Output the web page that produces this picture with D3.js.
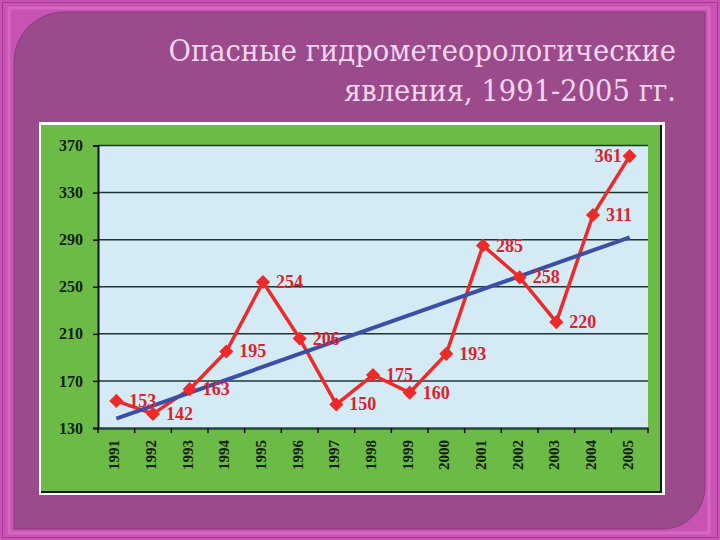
<!DOCTYPE html>
<html><head><meta charset="utf-8">
<script src="https://cdn.jsdelivr.net/npm/d3@7"></script>
<style>html,body{margin:0;padding:0;background:#c552b2;}svg{display:block;}</style>
</head><body>
<svg id="chart" width="720" height="540"></svg>
<script>
const years = ["1991","1992","1993","1994","1995","1996","1997","1998","1999","2000","2001","2002","2003","2004","2005"];
const values = [153,142,163,195,254,206,150,175,160,193,285,258,220,311,361];
const trendYears = ["1991","2005"];
const trendValues = [138,292];
const yTicks = [130,170,210,250,290,330,370];
const titleLines = ["Опасные гидрометеорологические","явления, 1991-2005 гг."];

const svg = d3.select("#chart");

// outer pink frame
svg.append("rect").attr("x",0).attr("y",0).attr("width",720).attr("height",540).attr("fill","#c853b3");
svg.append("rect").attr("x",2.5).attr("y",2.5).attr("width",715).attr("height",535).attr("fill","none").attr("stroke","#a8389a").attr("stroke-width",1);
svg.append("rect").attr("x",9).attr("y",8).attr("width",700).attr("height",525).attr("fill","none").attr("stroke","#d468c2").attr("stroke-width",3);

// inner purple panel with rounded top-left & bottom-right
const L=14,T=12,R=705,B=529,r1=50,r2=42;
const p = `M${L},${T+r1} A${r1},${r1} 0 0 1 ${L+r1},${T} L${R},${T} L${R},${B-r2} A${r2},${r2} 0 0 1 ${R-r2},${B} L${L},${B} Z`;
svg.append("path").attr("d",p).attr("fill","#9b4a8c").attr("stroke","#8a3d7e").attr("stroke-width",1);

// title
const title = svg.append("g").attr("font-family","'DejaVu Serif',serif")
  .attr("fill","#f3d6ee").attr("text-anchor","end")
  .attr("transform","translate(676,0) scale(0.944,1)");
title.selectAll("text").data(titleLines).join("text")
  .attr("x",0).attr("y",(d,i)=>61+i*40).attr("font-size",29).text(d=>d);

// chart box
svg.append("rect").attr("x",39).attr("y",122).attr("width",626).attr("height",373).attr("fill","#ffffff");
svg.append("rect").attr("x",41).attr("y",125).attr("width",621).attr("height",368).attr("fill","#141414");
svg.append("rect").attr("x",41).attr("y",125).attr("width",619).attr("height",366).attr("fill","#6cbb46");

const plot = {x0:98,x1:648,y0:145.5,y1:428};
const x = d3.scaleBand().domain(years).range([plot.x0,plot.x1]);
const y = d3.scaleLinear().domain([130,370]).range([plot.y1,plot.y0]);
const cx = d => x(d)+x.bandwidth()/2;

svg.append("rect").attr("x",plot.x0).attr("y",plot.y0).attr("width",plot.x1-plot.x0).attr("height",plot.y1-plot.y0).attr("fill","#d4eaf4");

// gridlines
svg.append("g").selectAll("line").data(yTicks.filter(v=>v>130)).join("line")
  .attr("x1",plot.x0).attr("x2",plot.x1).attr("y1",d=>y(d)).attr("y2",d=>y(d))
  .attr("stroke","#1f3535").attr("stroke-width",1.5);

// y axis
const yAxis = svg.append("g").attr("transform",`translate(${plot.x0},0)`)
  .call(d3.axisLeft(y).tickValues(yTicks).tickSize(5).tickPadding(10));
yAxis.select(".domain").attr("stroke","#111").attr("stroke-width",2);
yAxis.selectAll(".tick line").attr("stroke","#111").attr("stroke-width",1.5);
yAxis.selectAll("text").attr("font-family","'Liberation Serif',serif").attr("font-weight","bold")
  .attr("font-size",16).attr("fill","#142010");

// x axis
const xAxis = svg.append("g").attr("transform",`translate(0,${plot.y1})`)
  .call(d3.axisBottom(x).tickSize(0).tickPadding(0));
xAxis.select(".domain").attr("stroke","#24463a").attr("stroke-width",2.5);
xAxis.selectAll(".tick text")
  .attr("font-family","'Liberation Serif',serif").attr("font-weight","bold").attr("font-size",15)
  .attr("fill","#142010").attr("text-anchor","end").attr("dy",null)
  .attr("transform","translate(-2,12) rotate(-90)").attr("x",0).attr("y",5);
// boundary tick marks
svg.append("g").selectAll("line").data(years.concat(["end"])).join("line")
  .attr("x1",(d,i)=>plot.x0+i*x.step()).attr("x2",(d,i)=>plot.x0+i*x.step())
  .attr("y1",plot.y1).attr("y2",plot.y1+5).attr("stroke","#111").attr("stroke-width",1.5);

// series line
const line = d3.line().x((d,i)=>cx(years[i])).y(d=>y(d));
svg.append("path").datum(values).attr("d",line).attr("fill","none")
  .attr("stroke","#ec2a2a").attr("stroke-width",3.5).attr("stroke-linejoin","round");

// trend line
const tline = d3.line().x((d,i)=>cx(trendYears[i])).y(d=>y(d));
svg.append("path").datum(trendValues).attr("d",tline).attr("fill","none")
  .attr("stroke","#3b4fa6").attr("stroke-width",4);

// markers (square diamonds)
const sym = d3.symbol().type(d3.symbolSquare).size(100);
svg.append("g").selectAll("path").data(values).join("path")
  .attr("d",sym).attr("transform",(d,i)=>`translate(${cx(years[i])},${y(d)}) rotate(45)`)
  .attr("fill","#ec2a2a");

// data labels
svg.append("g").selectAll("text").data(values).join("text")
  .attr("x",(d,i)=> i===values.length-1 ? cx(years[i])-8 : cx(years[i])+13)
  .attr("y",(d,i)=> y(d)+6)
  .attr("text-anchor",(d,i)=> i===values.length-1 ? "end":"start")
  .attr("font-family","'Liberation Serif',serif").attr("font-weight","bold").attr("font-size",18)
  .attr("fill","#d9232e").text(d=>d);
</script>
</body></html>
